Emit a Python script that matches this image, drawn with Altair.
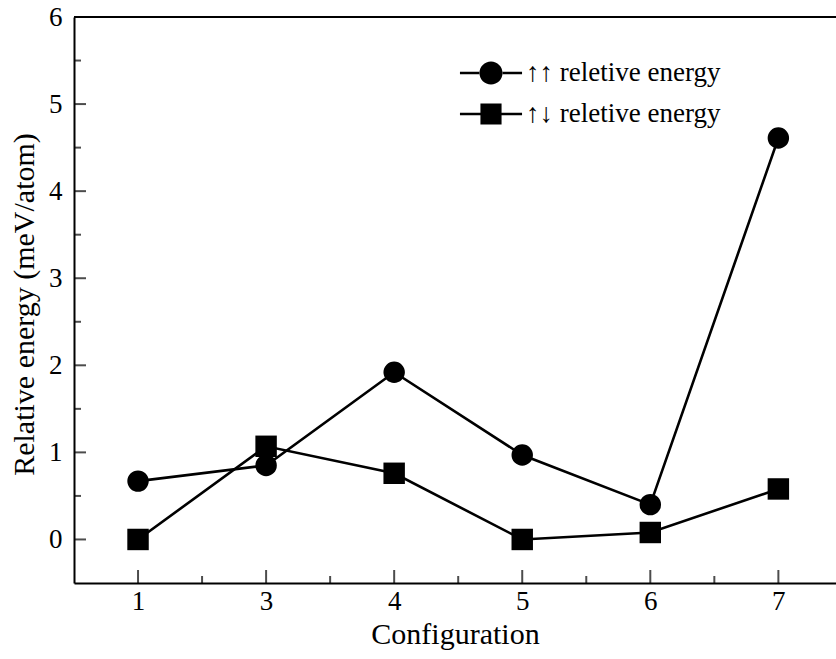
import altair as alt
import pandas as pd

# Configuration labels shown on the x axis (evenly spaced categories)
configs = ["1", "3", "4", "5", "6", "7"]

# Relative energies (meV/atom) of the two spin arrangements
parallel_energy = [0.67, 0.85, 1.92, 0.97, 0.40, 4.61]
antiparallel_energy = [0.00, 1.07, 0.76, 0.00, 0.08, 0.58]

series_names = ["\u2191\u2191 reletive energy", "\u2191\u2193 reletive energy"]

# Tick values
y_major = [0, 1, 2, 3, 4, 5, 6]
y_minor = [0.5, 1.5, 2.5, 3.5, 4.5, 5.5]
x_major = list(range(1, len(configs) + 1))
x_minor = [1.5, 2.5, 3.5, 4.5, 5.5]

rows = []
for i, c in enumerate(configs):
    rows.append({"pos": i + 1, "config": c, "series": series_names[0], "energy": parallel_energy[i]})
    rows.append({"pos": i + 1, "config": c, "series": series_names[1], "energy": antiparallel_energy[i]})
df = pd.DataFrame(rows)

FONT = "Liberation Serif"
W, H = 762, 566

x_scale = alt.Scale(domain=[0.5, 6.45], nice=False, zero=False)
y_scale = alt.Scale(domain=[-0.5, 6], nice=False, zero=False)

label_expr = "[" + ",".join("'%s'" % c for c in configs) + "][datum.value - 1]"

x_axis = alt.Axis(
    values=x_major, labelExpr=label_expr, ticks=False, grid=False,
    domainColor="black", domainWidth=2, labelFont=FONT, labelFontSize=27,
    labelColor="black", labelPadding=5, title="Configuration", titleFont=FONT,
    titleFontSize=30, titleFontWeight="normal", titleColor="black", titlePadding=5,
)
y_axis = alt.Axis(
    values=y_major, format="d", ticks=False, grid=False, domainColor="black",
    domainWidth=2, labelFont=FONT, labelFontSize=27, labelColor="black",
    labelPadding=12, title="Relative energy (meV/atom)", titleFont=FONT,
    titleFontSize=30, titleFontWeight="normal", titleColor="black",
    titleAngle=270, titleBaseline="alphabetic", titleAlign="center",
    titleX=-41, titleY=287,
)

shape_scale = alt.Scale(domain=series_names, range=["circle", "square"])

# Legend glyphs: a short line segment with the marker in the middle
legend_circle = (
    "M-1.94,-0.08L-0.7,-0.08L-0.7,0.08L-1.94,0.08Z"
    "M0.7,-0.08L1.94,-0.08L1.94,0.08L0.7,0.08Z"
    "M-0.72,0A0.72,0.72 0 1,0 0.72,0A0.72,0.72 0 1,0 -0.72,0Z"
)
legend_square = (
    "M-1.94,-0.08L-0.66,-0.08L-0.66,0.08L-1.94,0.08Z"
    "M0.66,-0.08L1.94,-0.08L1.94,0.08L0.66,0.08Z"
    "M-0.66,-0.66L0.66,-0.66L0.66,0.66L-0.66,0.66Z"
)

base = alt.Chart(df)

lines = base.mark_line(color="black", strokeWidth=2.6).encode(
    x=alt.X("pos:Q", scale=x_scale, axis=x_axis),
    y=alt.Y("energy:Q", scale=y_scale, axis=y_axis),
    detail="series:N",
)

points = base.mark_point(filled=True, color="black", opacity=1, size=460).encode(
    x=alt.X("pos:Q", scale=x_scale),
    y=alt.Y("energy:Q", scale=y_scale),
    shape=alt.Shape("series:N", scale=shape_scale, legend=None),
)

legend_layer = base.transform_filter("false").mark_point(
    filled=True, color="black", opacity=1
).encode(
    x=alt.X("pos:Q", scale=x_scale),
    y=alt.Y("energy:Q", scale=y_scale),
    shape=alt.Shape(
        "series:N",
        scale=alt.Scale(domain=series_names, range=[legend_circle, legend_square]),
        legend=alt.Legend(
            title=None, orient="none", legendX=401, legendY=40, padding=0,
            symbolSize=1024, symbolFillColor="black", symbolStrokeWidth=0,
            labelFont=FONT, labelFontSize=27, labelColor="black", labelOffset=19,
            labelLimit=400, rowPadding=12,
        ),
    ),
)

# Inward-pointing tick marks along the left and bottom axes
yt_major = alt.Chart(pd.DataFrame({"v": y_major})).mark_tick(
    orient="horizontal", size=24, thickness=2, color="black", clip=True
).encode(y=alt.Y("v:Q", scale=y_scale), x=alt.datum(0.5))
yt_minor = alt.Chart(pd.DataFrame({"v": y_minor})).mark_tick(
    orient="horizontal", size=14, thickness=2, color="black", clip=True
).encode(y=alt.Y("v:Q", scale=y_scale), x=alt.datum(0.5))
xt_major = alt.Chart(pd.DataFrame({"v": x_major})).mark_tick(
    orient="vertical", size=26, thickness=2, color="black", clip=True
).encode(x=alt.X("v:Q", scale=x_scale), y=alt.datum(-0.5))
xt_minor = alt.Chart(pd.DataFrame({"v": x_minor})).mark_tick(
    orient="vertical", size=14, thickness=2, color="black", clip=True
).encode(x=alt.X("v:Q", scale=x_scale), y=alt.datum(-0.5))

# Top frame line
top_line = alt.Chart(pd.DataFrame({"v": [6]})).mark_rule(
    color="black", strokeWidth=2
).encode(y=alt.Y("v:Q", scale=y_scale))

chart = (
    alt.layer(lines, points, legend_layer, yt_major, yt_minor, xt_major, xt_minor, top_line)
    .resolve_scale(shape="independent")
    .properties(
        width=W, height=H,
        autosize=alt.AutoSizeParams(type="none"),
        padding={"left": 74, "top": 17, "right": 0, "bottom": 76},
        background="white",
    )
    .configure_view(stroke=None)
)

chart.save("out.html", embed_options={"renderer": "svg", "actions": False})
